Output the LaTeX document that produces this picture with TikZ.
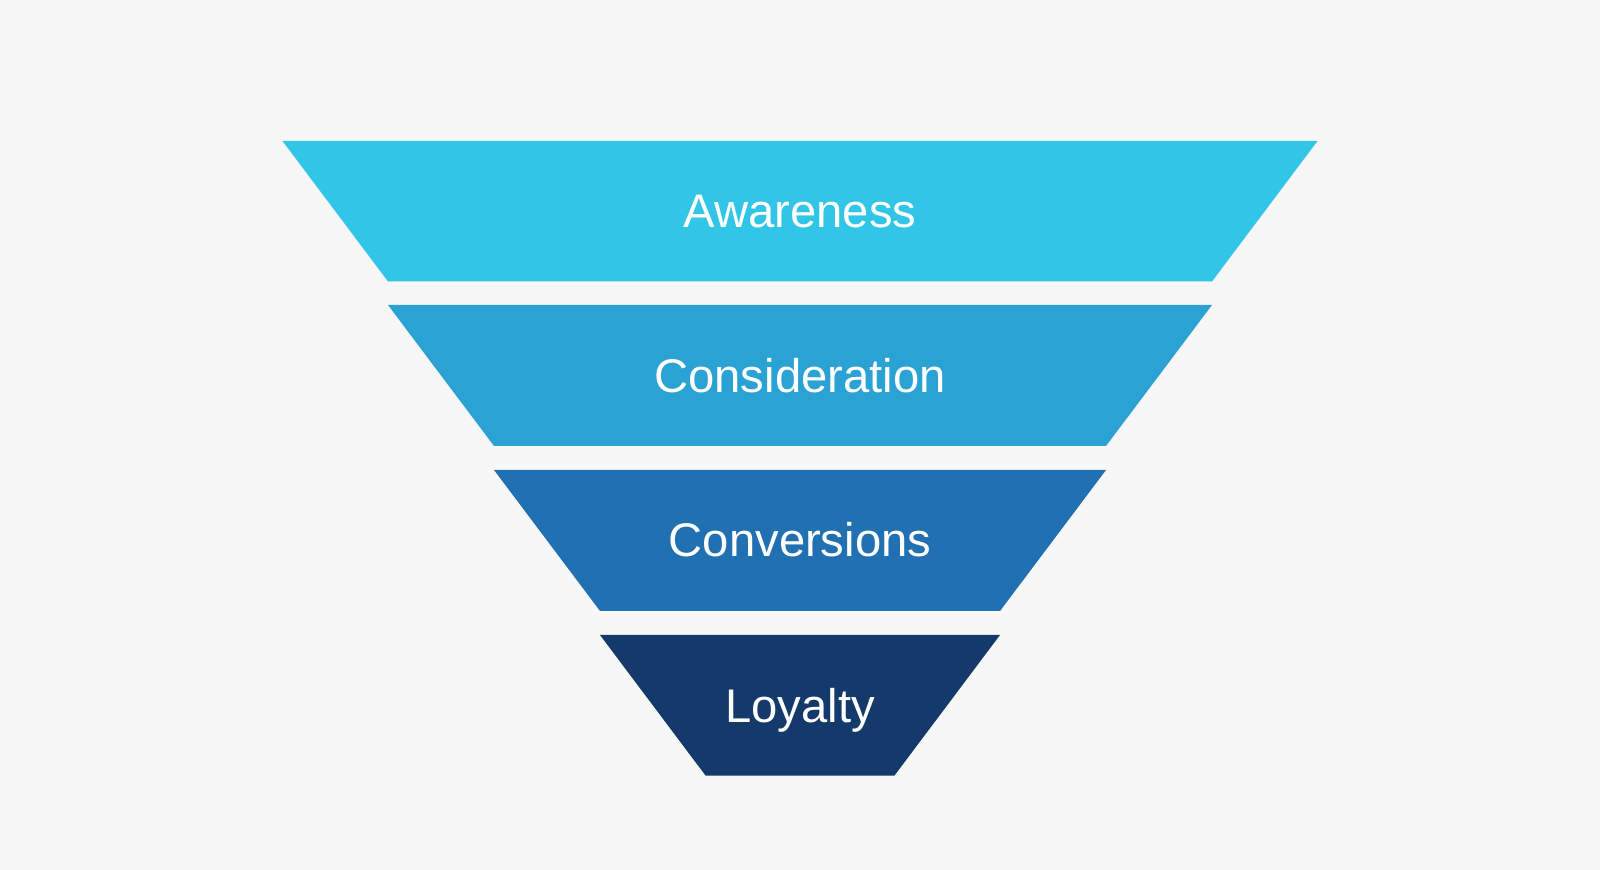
\documentclass[tikz,border=0pt]{standalone}
\usepackage{fontspec}
\setmainfont{Liberation Sans}
\definecolor{bgcol}{HTML}{F7F7F8}
\definecolor{awarecol}{HTML}{31C5E8}
\definecolor{considcol}{HTML}{2AA3D4}
\definecolor{convcol}{HTML}{2170B2}
\definecolor{loyalcol}{HTML}{133A6A}
\tikzset{stagelabel/.style={text=white, anchor=base, inner sep=0pt, font=\fontsize{23.6}{28}\selectfont}}
\begin{document}
\begin{tikzpicture}[x=0.5pt,y=-0.5pt]
\fill[bgcol] (0,0) rectangle (1600,870);
\fill[awarecol] (282.5,141) -- (1317.5,141) -- (1212,281.5) -- (388,281.5) -- cycle;
\fill[considcol] (388,305) -- (1212,305) -- (1106,446) -- (494,446) -- cycle;
\fill[convcol] (494,470) -- (1106,470) -- (1000,611) -- (600,611) -- cycle;
\fill[loyalcol] (600,635) -- (1000,635) -- (894.5,775.5) -- (705.5,775.5) -- cycle;
\node[stagelabel] (awareness) at (800,228) {Awareness};
\node[stagelabel] (consideration) at (800,392.5) {Consideration};
\node[stagelabel] (conversions) at (800,557) {Conversions};
\node[stagelabel] (loyalty) at (800,722) {Loyalty};
\end{tikzpicture}
\end{document}
